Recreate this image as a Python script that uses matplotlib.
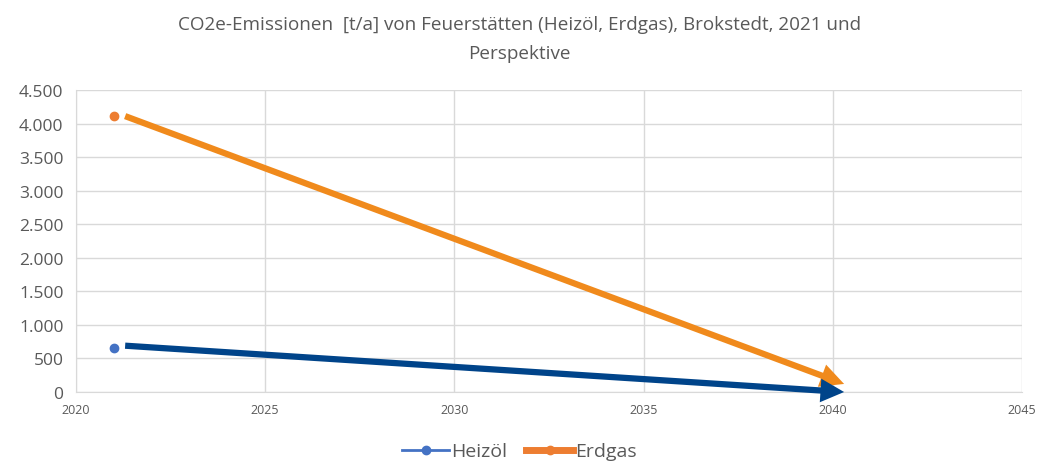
import matplotlib.pyplot as plt
from matplotlib.lines import Line2D
from matplotlib.ticker import FuncFormatter

# daten
jahr = [2021]
heizoel = [650]
erdgas = [4110]

# perspektive (pfeile): start -> ziel
pfeil_jahr = [2021.3, 2040.3]
pfeil_heizoel = [690, 0]
pfeil_erdgas = [4110, 120]

grau = "#595959"
plt.rcParams["font.family"] = ["Open Sans", "DejaVu Sans"]

fig = plt.figure(figsize=(10.39, 4.64), dpi=100)
ax = fig.add_axes([0.0731, 0.153, 0.9105, 0.651])

ax.plot(jahr, heizoel, "o", color="#4472C4", markersize=6, zorder=3)
ax.plot(jahr, erdgas, "o", color="#ED7D31", markersize=6, zorder=3)

# pfeile
ax.annotate("", xy=(pfeil_jahr[1], pfeil_erdgas[1]), xytext=(pfeil_jahr[0], pfeil_erdgas[0]),
            arrowprops=dict(width=4.5, headwidth=17, headlength=17, color="#F08A1C", lw=0,
                            shrink=0), zorder=4)
ax.annotate("", xy=(pfeil_jahr[1], pfeil_heizoel[1]), xytext=(pfeil_jahr[0], pfeil_heizoel[0]),
            arrowprops=dict(width=4.5, headwidth=17, headlength=17, color="#00448A", lw=0,
                            shrink=0), zorder=4)

ax.set_xlim(2020, 2045)
ax.set_ylim(0, 4500)
ax.set_xticks(range(2020, 2046, 5))
ax.set_yticks(range(0, 4501, 500))
ax.yaxis.set_major_formatter(FuncFormatter(lambda v, p: f"{int(v):,}".replace(",", ".")))
ax.grid(True, color="#D9D9D9", lw=1)
ax.set_axisbelow(True)
for s in ax.spines.values():
    s.set_visible(False)
ax.spines["left"].set_visible(True)
ax.spines["bottom"].set_visible(True)
ax.spines["left"].set_color("#D9D9D9")
ax.spines["bottom"].set_color("#D9D9D9")
ax.tick_params(length=0, colors=grau)
ax.tick_params(axis="x", labelsize=9, pad=8)
ax.tick_params(axis="y", labelsize=12.5, pad=9)

fig.text(0.5, 0.915, "CO2e-Emissionen  [t/a] von Feuerstätten (Heizöl, Erdgas), Brokstedt, 2021 und\nPerspektive",
         ha="center", va="center", fontsize=13.6, color=grau, linespacing=1.75)

handles = [Line2D([], [], color="#4472C4", lw=2, marker="o", markersize=6),
           Line2D([], [], color="#ED7D31", lw=5, marker="o", markersize=6)]
fig.legend(handles, ["Heizöl", "Erdgas"], loc="center", bbox_to_anchor=(0.5, 0.025), ncol=2,
           frameon=False, fontsize=14, labelcolor=grau, handlelength=2.4, handletextpad=0.1,
           columnspacing=1.0)

fig.savefig("out.png", dpi=100)
